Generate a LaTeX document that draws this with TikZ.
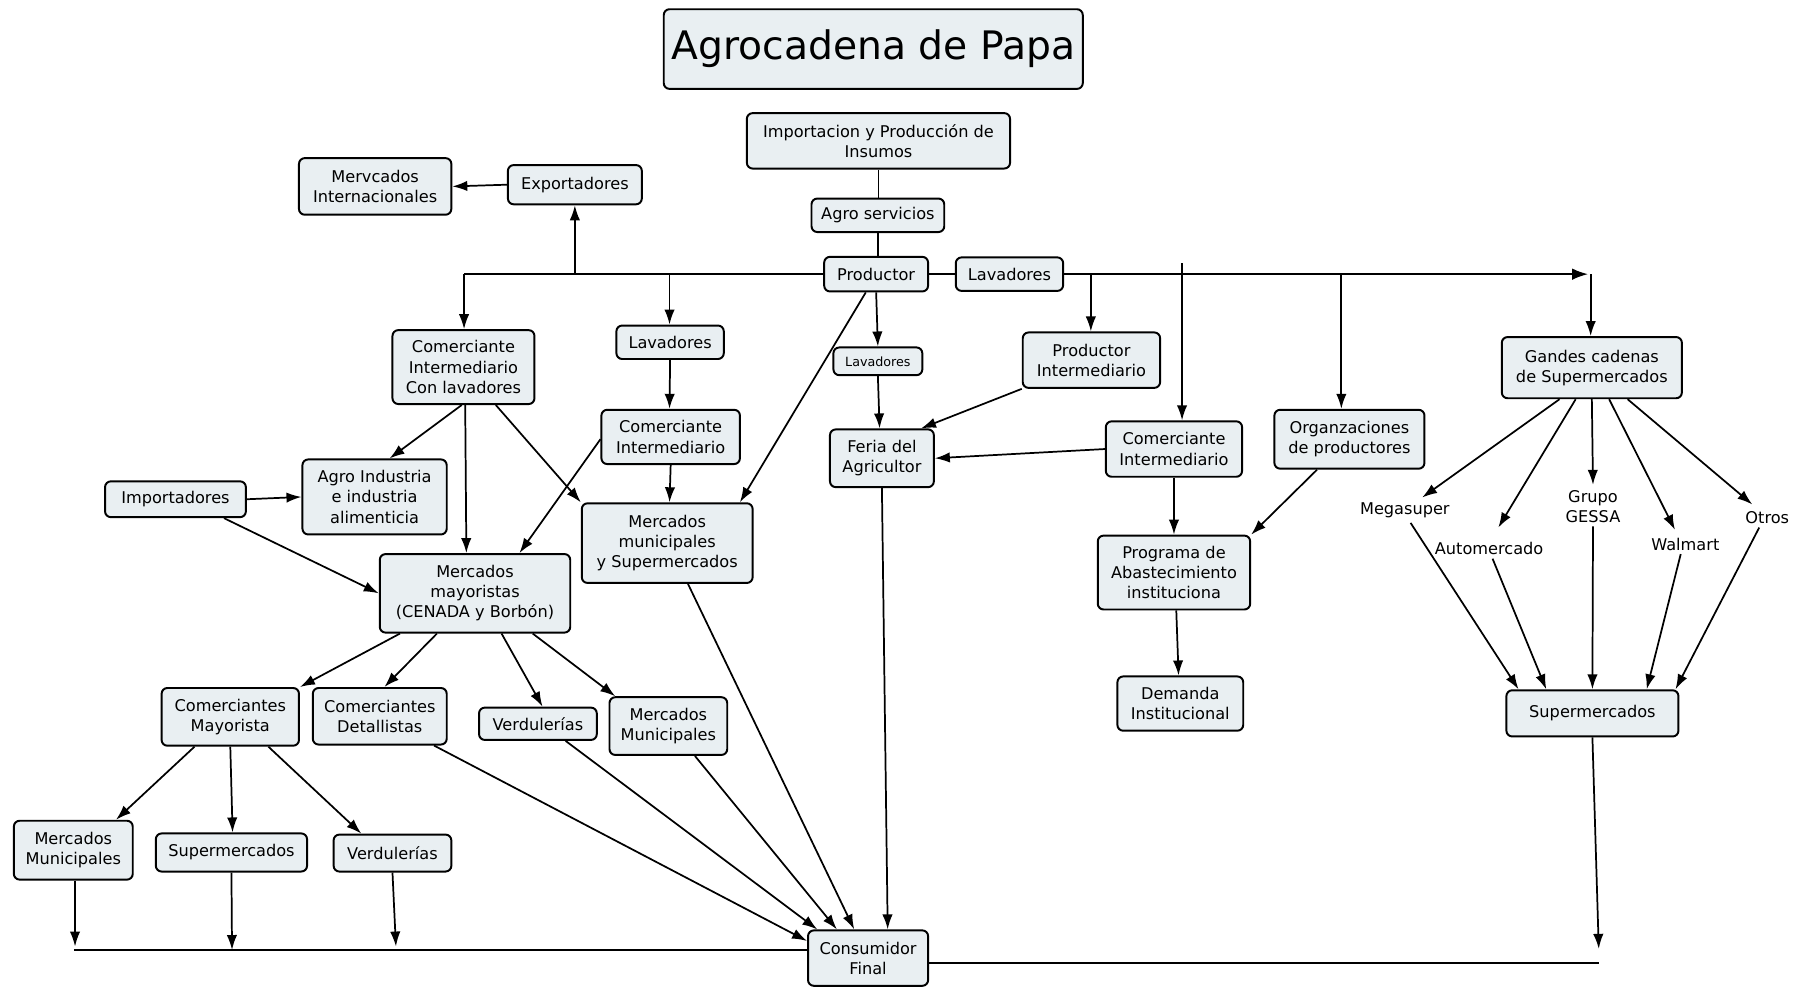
\documentclass[tikz,border=0pt]{standalone}
\usepackage{fontspec}
\setmainfont{DejaVu Sans}
\usetikzlibrary{arrows.meta,calc}
\definecolor{boxfill}{RGB}{233,239,242}
\tikzset{
 box/.style={draw=black, line width=1.7pt, rounded corners=5pt, fill=boxfill, align=center, inner sep=2pt, font=\fontsize{14}{17.5}\selectfont},
 sz/.style 2 args={minimum width=#1pt, minimum height=#2pt},
 lbl/.style={align=center, inner sep=1pt, font=\fontsize{14}{17.5}\selectfont},
 arr/.style={-{Latex[length=13pt,width=9pt]}, line width=1.5pt},
 ln/.style={line width=1.5pt},
 bus/.style={line width=2.1pt},
}
\begin{document}
\begin{tikzpicture}[x=1pt,y=-1pt]
\useasboundingbox[fill=white] (0,0) rectangle (1568,856);

\node[box,font=\fontsize{34}{40}\selectfont,sz={363}{69}] (title) at (756.5,42.5) {Agrocadena de Papa};
\node[box,sz={228}{48}] (imp) at (761,122) {Importacion y Producción de\\Insumos};
\node[box,sz={115}{29}] (agro) at (760.5,186.5) {Agro servicios};
\node[box,sz={90}{30}] (prod) at (759,237.5) {Productor};
\node[box,sz={93}{29}] (lav1) at (874.5,237.5) {Lavadores};
\node[box,sz={116}{34}] (exp) at (498,160) {Exportadores};
\node[box,sz={132}{49}] (mint) at (325,161.5) {Mervcados\\Internacionales};
\node[box,sz={123}{64}] (cicl) at (401.5,318) {Comerciante\\Intermediario\\Con lavadores};
\node[box,sz={93}{29}] (lav2) at (580.5,296.5) {Lavadores};
\node[box,sz={120}{47}] (cim) at (581,378.5) {Comerciante\\Intermediario};
\node[box,sz={77}{24},font=\fontsize{11}{13}\selectfont] (lav3) at (760.5,313) {Lavadores};
\node[box,sz={90}{50}] (feria) at (764,397) {Feria del\\Agricultor};
\node[box,sz={119}{48}] (pint) at (945.5,312) {Productor\\Intermediario};
\node[box,sz={118}{48}] (cir) at (1017,389) {Comerciante\\Intermediario};
\node[box,sz={130}{51}] (org) at (1169,380.5) {Organzaciones\\de productores};
\node[box,sz={156}{53}] (gcs) at (1379,318.5) {Gandes cadenas\\de Supermercados};
\node[box,sz={125}{65}] (aind) at (324.5,430.5) {Agro Industria\\e industria\\alimenticia};
\node[box,sz={122}{31}] (impo) at (152,432.5) {Importadores};
\node[box,sz={148}{69}] (mms) at (578,470.5) {Mercados\\municipales\\y Supermercados};
\node[box,sz={165}{68}] (may) at (411.5,514) {Mercados\\mayoristas\\(CENADA y Borbón)};
\node[box,sz={132}{64}] (prog) at (1017,496) {Programa de\\Abastecimiento\\instituciona};
\node[box,sz={109}{47}] (dem) at (1022.5,609.5) {Demanda\\Institucional};
\node[lbl] (mega) at (1217,442) {Megasuper};
\node[lbl] (auto) at (1290,475) {Automercado};
\node[lbl] (gessa) at (1380,439) {Grupo\\GESSA};
\node[lbl] (wal) at (1460,472) {Walmart};
\node[lbl] (otros) at (1531,448) {Otros};
\node[box,sz={149}{40}] (sup) at (1379.5,618) {Supermercados};
\node[box,sz={119}{50}] (cmay) at (199.5,621) {Comerciantes\\Mayorista};
\node[box,sz={116}{49}] (cdet) at (329,620.5) {Comerciantes\\Detallistas};
\node[box,sz={102}{28}] (verd1) at (466,627) {Verdulerías};
\node[box,sz={102}{50}] (mmun1) at (579,629) {Mercados\\Municipales};
\node[box,sz={103}{51}] (mmun2) at (63.5,736.5) {Mercados\\Municipales};
\node[box,sz={131}{33}] (sup2) at (200.5,738.5) {Supermercados};
\node[box,sz={102}{32}] (verd2) at (340,739) {Verdulerías};
\node[box,sz={104}{48}] (cons) at (752,830) {Consumidor\\Final};

% bus coordinates
\coordinate (bL) at (402,237.5);
\coordinate (bExp) at (498,237.5);
\coordinate (bLav) at (580,237.5);
\coordinate (bR) at (1376,237.5);
\coordinate (bG) at (1378,237.5);
\coordinate (bPI) at (945,237.5);
\coordinate (bCI) at (1024,228);
\coordinate (bOrg) at (1162,237.5);
\coordinate (dL) at (64,823);
\coordinate (d1) at (65,820);
\coordinate (d2) at (201,823);
\coordinate (d3) at (343,820);
\coordinate (dR) at (1385,834);
\coordinate (dS) at (1385,822);

% top chain
\draw[ln] (imp.south) -- (imp.south |- agro.north);
\draw[ln] (agro.south) -- (agro.south |- prod.north);
\draw[bus] (prod.west) -- (bL);
\draw[arr] (bL) -- (bL |- cicl.north);
\draw[arr] (bExp) -- (exp.south);
\draw[arr] (exp.west) -- (mint.east);
\draw[arr] (bLav) -- (bLav |- lav2.north);
\draw[ln] (prod.east) -- (lav1.west);
\draw[bus,-{Latex[length=14pt,width=10pt]}] (lav1.east) -- (bR);
\draw[arr] (bG) -- (bG |- gcs.north);
\draw[arr] (bPI) -- (bPI |- pint.north);
\draw[arr] (bCI) -- (bCI |- cir.north);
\draw[arr] (bOrg) -- (bOrg |- org.north);

% productor branch
\draw[arr] (prod.south) -- (lav3.north);
\draw[arr] ([xshift=-9pt]prod.south) -- ([xshift=63pt]mms.north);
\draw[arr] (lav3.south) -- ([xshift=-2pt]feria.north);
\draw[arr] (pint.south west) -- ([xshift=-12pt]feria.north east);
\draw[arr] (cir.west) -- (feria.east);
\draw[arr] (cir.south) -- (prog.north);
\draw[arr] ([xshift=-28pt]org.south) -- (prog.north east);
\draw[arr] ([xshift=2pt]prog.south) -- ([xshift=-1.5pt]dem.north);

% left cluster
\draw[arr] (impo.east) -- (aind.west);
\draw[arr] ([xshift=42pt]impo.south) -- (may.west);
\draw[arr] ([xshift=-1.5pt]cicl.south) -- ([xshift=13pt]aind.north);
\draw[arr] ([xshift=1.5pt]cicl.south) -- ([xshift=-7.5pt]may.north);
\draw[arr] ([xshift=28pt]cicl.south) -- (mms.north west);
\draw[arr] (lav2.south) -- ([xshift=-1pt]cim.north);
\draw[arr] (cim.south) -- ([xshift=2pt]mms.north);
\draw[arr] ([yshift=-2pt]cim.west) -- ([xshift=38.5pt]may.north);

% mayoristas outputs
\draw[arr] ([xshift=-65pt]may.south) -- (cmay.north east);
\draw[arr] ([xshift=-33pt]may.south) -- ([xshift=4pt]cdet.north);
\draw[arr] ([xshift=23pt]may.south) -- ([xshift=4pt]verd1.north);
\draw[arr] ([xshift=50pt]may.south) -- ([xshift=-46pt]mmun1.north);
\draw[arr] ([xshift=-31pt]cmay.south) -- ([xshift=37pt]mmun2.north);
\draw[arr] (cmay.south) -- ([xshift=1pt]sup2.north);
\draw[arr] ([xshift=33pt]cmay.south) -- ([xshift=-27pt]verd2.north);

% bottom bus
\draw[arr] ([xshift=1.5pt]mmun2.south) -- (d1);
\draw[arr] (sup2.south) -- (d2);
\draw[arr] (verd2.south) -- (d3);
\draw[bus] (dL) -- ([yshift=7pt]cons.west);
\draw[bus] ([yshift=-4pt]cons.east) -- (dR);
\draw[arr] (sup.south) -- (dS);

% into consumidor
\draw[arr] ([xshift=47pt]cdet.south) -- ([yshift=-10pt]cons.north west);
\draw[arr] ([xshift=24pt]verd1.south) -- ([xshift=-44pt]cons.north);
\draw[arr] ([xshift=23pt]mmun1.south) -- ([xshift=-27pt]cons.north);
\draw[arr] ([xshift=18pt]mms.south) -- ([xshift=-12pt]cons.north);
\draw[arr] (feria.south) -- ([xshift=17pt]cons.north);

% supermarket chains
\draw[arr] ([xshift=-28pt]gcs.south) -- ($(mega.center)+(15,-11)$);
\draw[arr] ([xshift=-14pt]gcs.south) -- ($(auto.center)+(8,-18)$);
\draw[arr] (gcs.south) -- ($(gessa.center)+(0,-19)$);
\draw[arr] ([xshift=15pt]gcs.south) -- ($(wal.center)+(-9,-13)$);
\draw[arr] ([xshift=31pt]gcs.south) -- ($(otros.center)+(-13,-11)$);
\draw[arr] ($(mega.center)+(5,11)$) -- ([xshift=-64pt]sup.north);
\draw[arr] ($(auto.center)+(3,9)$) -- ([xshift=-40pt]sup.north);
\draw[arr] ($(gessa.center)+(0,17)$) -- (sup.north);
\draw[arr] ($(wal.center)+(-4,8)$) -- ([xshift=47pt]sup.north);
\draw[arr] ($(otros.center)+(-7,9)$) -- ([xshift=72pt]sup.north);
\end{tikzpicture}
\end{document}
